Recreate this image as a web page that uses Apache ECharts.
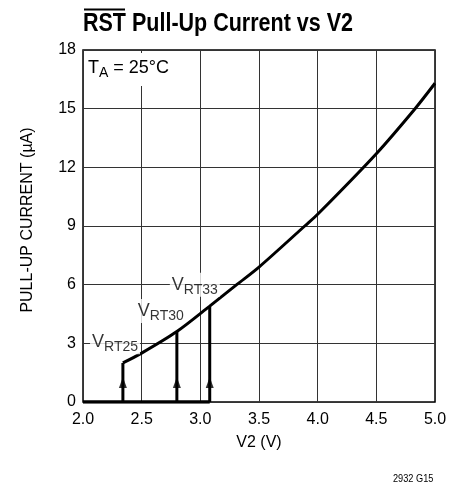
<!DOCTYPE html>
<html>
<head>
<meta charset="utf-8">
<script src="https://cdn.jsdelivr.net/npm/echarts@6/dist/echarts.min.js"></script>
<style>
  html, body { margin: 0; padding: 0; background: #fff; }
  #chart { width: 464px; height: 486px; }
</style>
</head>
<body>
<div id="chart"></div>
<script>
// pull-up current curve (V2 in volts, current in uA)
var curveV = [2.34, 2.5, 2.8, 3.08, 3.31, 3.5, 3.89, 4.0, 4.5, 4.83, 5.0];
var curveI = [2.0, 2.5, 3.6, 4.9, 6.0, 6.9, 9.0, 9.6, 12.7, 15.0, 16.3];

// reset thresholds
var thrNames = ["RT25", "RT30", "RT33"];
var thrV = [2.34, 2.8, 3.08];
var thrI = [2.0, 3.6, 4.9];

var xTicks = [2.0, 2.5, 3.0, 3.5, 4.0, 4.5, 5.0];
var yTicks = [0, 3, 6, 9, 12, 15, 18];

var FONT = "'Liberation Sans', Arial, sans-serif";

// where the threshold labels sit (left edge, in axis units)
var labelAt = [[2.06, 3.05], [2.45, 4.65], [2.74, 6.0]];

var chart = echarts.init(document.getElementById("chart"));

function measure(text, font) {
  var ctx = document.createElement("canvas").getContext("2d");
  ctx.font = font;
  return ctx.measureText(text).width;
}

var titleText = "RST Pull-Up Current vs V2";
var titleFont = "bold 26px 'Liberation Sans'";
var titleScale = 270 / measure(titleText, titleFont);
var rstW = measure("RST", titleFont) * titleScale;

var series = [];

// curve
series.push({
  type: "line",
  data: curveV.map(function (v, i) { return [v, curveI[i]]; }),
  smooth: 0.3,
  symbol: "none",
  lineStyle: { color: "#000", width: 3 },
  z: 5
});

// thick base from 2.0 to last threshold
series.push({
  type: "line",
  data: [[xTicks[0], 0], [thrV[thrV.length - 1], 0]],
  symbol: "none",
  lineStyle: { color: "#000", width: 3.5 },
  z: 5
});

// vertical threshold lines
thrV.forEach(function (v, i) {
  series.push({
    type: "line",
    data: [[v, 0], [v, thrI[i]]],
    symbol: "none",
    lineStyle: { color: "#000", width: 3 },
    z: 5
  });
});

// arrow heads
series.push({
  type: "scatter",
  data: thrV.map(function (v) { return [v, 1.0]; }),
  symbol: "triangle",
  symbolSize: [8, 11],
  itemStyle: { color: "#000" },
  z: 6
});

// threshold labels
series.push({
  type: "scatter",
  data: labelAt.map(function (p, i) { return { value: p, name: thrNames[i] }; }),
  symbolSize: 0,
  z: 7,
  label: {
    show: true,
    position: "right",
    distance: 0,
    backgroundColor: "#fff",
    padding: [0, 2, 0, 2],
    formatter: function (p) { return "{v|V}{s|" + p.name + "}"; },
    rich: {
      v: { fontFamily: FONT, fontSize: 18, color: "#000", lineHeight: 24 },
      s: { fontFamily: FONT, fontSize: 14, color: "#000", lineHeight: 14, verticalAlign: "bottom" }
    }
  }
});

chart.setOption({
  animation: false,
  backgroundColor: "#fff",
  grid: {
    left: 83, right: 29, top: 50, bottom: 84,
    show: true, borderColor: "#000", borderWidth: 1.5, backgroundColor: "transparent"
  },
  xAxis: {
    type: "value",
    min: 2.0, max: 5.0, interval: 0.5,
    name: "V2 (V)",
    nameLocation: "middle",
    nameGap: 33,
    nameTextStyle: { fontFamily: FONT, fontSize: 16, color: "#000" },
    axisLine: { show: false },
    axisTick: { show: false },
    axisLabel: {
      margin: 10, fontFamily: FONT, fontSize: 16, color: "#000",
      formatter: function (v) { return v.toFixed(1); }
    },
    splitLine: { show: true, lineStyle: { color: "#333", width: 1 } }
  },
  yAxis: {
    type: "value",
    min: 0, max: 18, interval: 3,
    name: "PULL-UP CURRENT (\u00B5A)",
    nameLocation: "middle",
    nameGap: 42,
    nameTextStyle: { fontFamily: FONT, fontSize: 16, color: "#000", padding: [0, 0, 5, 12] },
    axisLine: { show: false },
    axisTick: { show: false },
    axisLabel: { margin: 7, fontFamily: FONT, fontSize: 16, color: "#000" },
    splitLine: { show: true, lineStyle: { color: "#333", width: 1 } }
  },
  graphic: [
    {
      type: "text",
      left: 83, top: 11,
      z: 100,
      scaleX: titleScale,
      style: { text: titleText, font: titleFont, fill: "#000" }
    },
    {
      type: "line",
      z: 100,
      shape: { x1: 84, y1: 9.5, x2: 84 + rstW - 2, y2: 9.5 },
      style: { stroke: "#000", lineWidth: 2 }
    },
    {
      type: "text",
      left: 86, top: 53,
      z: 100,
      style: {
        text: "{v|T}{s|A}{v| = 25\u00B0C}",
        backgroundColor: "#fff",
        padding: [3, 4, 6, 2],
        rich: {
          v: { fontFamily: FONT, fontSize: 18, fill: "#000", lineHeight: 24 },
          s: { fontFamily: FONT, fontSize: 14, fill: "#000", lineHeight: 14, verticalAlign: "bottom" }
        }
      }
    },
    {
      type: "text",
      left: 393, top: 474,
      z: 100,
      scaleX: 0.92,
      style: { text: "2932 G15", font: "10px " + FONT, fill: "#000" }
    }
  ],
  series: series
});
</script>
</body>
</html>
